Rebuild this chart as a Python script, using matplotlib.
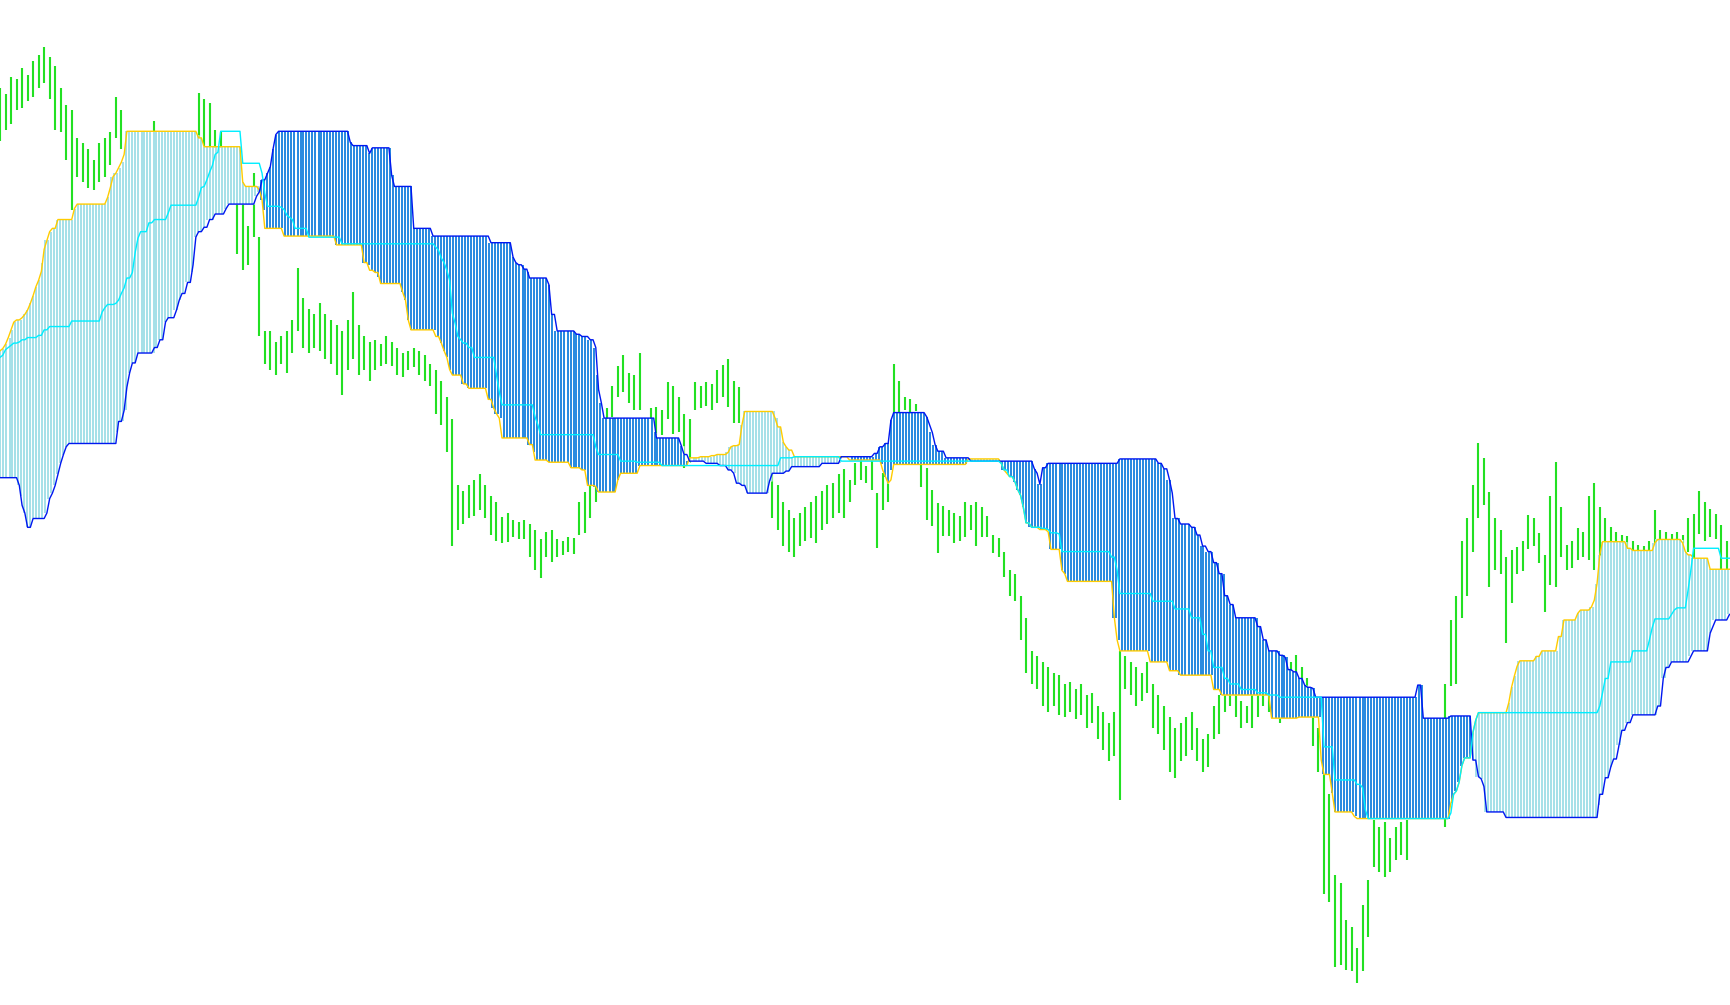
import numpy as np
import matplotlib
matplotlib.use("Agg")
import matplotlib.pyplot as plt

# time runs 0..1568 chart units, one cloud bar every 2.5 units, one price bar every 5
# price levels are on an inverted scale (0 at the top)

span_a_t = [0, 2, 5, 7, 10, 12, 15, 20, 22, 24, 26, 29, 32, 34, 36, 38, 40, 41, 44, 47,
            52, 67, 70, 96, 99, 101, 103, 107, 110, 112, 113, 114, 178, 180, 183, 218, 219, 220, 221, 235,
            237, 238, 240, 257, 303, 329, 334, 335, 340, 343, 344, 364, 367, 369, 371, 395, 398, 402, 404, 407,
            410, 419, 424, 442, 446, 449, 452, 455, 479, 483, 485, 496, 517, 526, 531, 538, 541, 560, 562, 578,
            625, 633, 645, 650, 658, 661, 663, 669, 671, 672, 673, 702, 705, 708, 710, 712, 715, 718, 770, 798,
            800, 802, 804, 807, 808, 810, 877, 906, 908, 912, 915, 918, 921, 924, 926, 929, 933, 942, 950, 952,
            961, 962, 964, 967, 1009, 1012, 1015, 1042, 1060, 1068, 1100, 1106, 1152, 1177, 1197, 1199, 1207, 1209, 1227, 1230,
            1314, 1315, 1317, 1319, 1321, 1323, 1324, 1326, 1334, 1336, 1339, 1367, 1369, 1371, 1374, 1376, 1392, 1396, 1412, 1416,
            1428, 1432, 1441, 1445, 1447, 1449, 1451, 1475, 1478, 1498, 1501, 1525, 1527, 1529, 1534, 1548, 1550]
span_a_v = [318, 316, 312, 306, 299, 292, 290, 288, 285, 281, 275, 268, 260, 254, 246, 238, 226, 218, 210, 207,
            199, 189, 185, 179, 170, 160, 157, 152, 147, 140, 127, 119, 122, 125, 133, 143, 157, 165, 169, 172,
            181, 190, 207, 214, 222, 238, 240, 245, 247, 251, 257, 265, 272, 290, 299, 305, 311, 318, 324, 335,
            340, 348, 352, 362, 370, 375, 379, 397, 403, 410, 417, 419, 424, 426, 440, 441, 446, 435, 429, 422,
            415, 414, 413, 412, 410, 405, 404, 403, 396, 385, 373, 379, 387, 397, 401, 405, 408, 414, 417, 421,
            426, 432, 438, 435, 426, 421, 416, 420, 426, 429, 432, 437, 444, 449, 460, 474, 478, 480, 482, 498,
            501, 517, 520, 527, 560, 580, 590, 600, 608, 612, 625, 630, 651, 650, 689, 702, 719, 736, 740, 742,
            737, 728, 720, 717, 709, 701, 694, 687, 664, 653, 646, 637, 623, 613, 604, 599, 595, 590, 577, 562,
            556, 553, 550, 544, 529, 503, 491, 497, 499, 492, 489, 492, 500, 503, 506, 512, 516]

span_b_t = [0, 16, 18, 20, 22, 24, 30, 41, 43, 46, 49, 52, 54, 56, 58, 61, 106, 107, 112, 115,
            116, 119, 125, 140, 144, 148, 152, 158, 162, 165, 169, 173, 175, 176, 177, 179, 183, 188, 195, 203,
            206, 231, 234, 237, 241, 244, 247, 249, 251, 317, 320, 333, 337, 354, 357, 373, 375, 392, 443, 463,
            466, 470, 475, 478, 480, 497, 500, 503, 522, 527, 533, 538, 541, 542, 544, 546, 593, 595, 616, 620,
            623, 640, 652, 660, 664, 667, 672, 677, 697, 700, 712, 716, 745, 762, 792, 797, 802, 807, 809, 838,
            841, 843, 846, 850, 856, 880, 936, 939, 941, 944, 948, 1013, 1050, 1055, 1058, 1061, 1063, 1070, 1078, 1085,
            1088, 1093, 1100, 1105, 1110, 1114, 1118, 1140, 1144, 1150, 1160, 1165, 1167, 1172, 1176, 1181, 1185, 1189, 1192, 1285,
            1290, 1313, 1335, 1338, 1342, 1344, 1346, 1363, 1448, 1450, 1453, 1458, 1462, 1466, 1470, 1474, 1478, 1502, 1506, 1510,
            1513, 1531, 1533, 1548, 1551, 1553, 1566]
span_b_v = [433, 440, 450, 458, 465, 478, 470, 465, 452, 447, 440, 430, 420, 412, 405, 402, 392, 382, 372, 351,
            338, 329, 320, 315, 308, 292, 288, 281, 272, 266, 256, 247, 240, 227, 215, 210, 206, 199, 194, 189,
            185, 178, 174, 163, 157, 151, 135, 122, 119, 129, 132, 139, 134, 159, 169, 190, 207, 214, 220, 233,
            238, 240, 244, 247, 252, 258, 285, 300, 303, 305, 308, 315, 340, 353, 365, 379, 392, 397, 404, 412,
            418, 420, 422, 426, 429, 438, 440, 447, 436, 429, 427, 423, 420, 414, 411, 405, 402, 381, 374, 378,
            385, 392, 403, 409, 415, 418, 425, 429, 439, 424, 420, 416, 420, 425, 435, 447, 470, 475, 478, 485,
            495, 500, 510, 520, 540, 548, 560, 568, 580, 590, 594, 596, 607, 609, 615, 621, 623, 624, 632, 621,
            651, 649, 689, 704, 706, 713, 736, 741, 730, 720, 705, 695, 688, 675, 662, 655, 648, 640, 615, 605,
            600, 595, 590, 574, 568, 562, 557]

kijun_t = [0, 2, 3, 6, 9, 12, 16, 20, 23, 34, 38, 43, 63, 65, 91, 92, 95, 97, 104, 107,
           110, 111, 113, 115, 120, 121, 122, 124, 127, 133, 134, 138, 151, 153, 179, 181, 184, 186, 188, 190,
           192, 193, 195, 197, 198, 199, 218, 220, 236, 238, 240, 241, 254, 256, 258, 261, 263, 266, 267, 279,
           309, 395, 397, 400, 402, 404, 406, 408, 410, 411, 413, 416, 419, 423, 428, 449, 451, 453, 483, 485,
           487, 488, 489, 538, 540, 541, 561, 577, 598, 706, 719, 762, 906, 908, 913, 915, 918, 922, 924, 927,
           929, 934, 943, 949, 952, 958, 961, 962, 1004, 1006, 1011, 1012, 1013, 1015, 1043, 1063, 1080, 1088, 1095, 1100,
           1108, 1115, 1125, 1140, 1150, 1160, 1198, 1210, 1228, 1233, 1237, 1239, 1314, 1316, 1317, 1320, 1322, 1323, 1325, 1326,
           1335, 1337, 1340, 1449, 1451, 1454, 1459, 1478, 1495, 1497, 1499, 1513, 1517, 1519, 1529, 1530, 1531, 1533, 1534, 1558,
           1560]
kijun_v = [324, 322, 317, 315, 313, 311, 310, 308, 306, 304, 299, 296, 295, 291, 287, 283, 279, 276, 275, 272,
           266, 261, 256, 252, 247, 240, 229, 216, 210, 208, 202, 199, 193, 186, 179, 170, 169, 163, 157, 156,
           150, 147, 140, 138, 127, 119, 138, 148, 157, 163, 175, 187, 188, 190, 195, 197, 199, 204, 207, 215,
           221, 224, 227, 234, 238, 245, 254, 269, 284, 293, 305, 308, 311, 315, 324, 340, 355, 367, 373, 378,
           385, 393, 394, 399, 405, 412, 418, 419, 422, 415, 414, 418, 420, 426, 429, 432, 437, 444, 449, 460,
           474, 478, 479, 480, 483, 484, 489, 500, 500, 505, 508, 517, 526, 538, 545, 552, 560, 575, 590, 605,
           615, 620, 625, 628, 630, 632, 677, 707, 711, 714, 734, 742, 737, 728, 720, 717, 709, 701, 694, 687,
           664, 653, 646, 640, 628, 615, 600, 590, 580, 569, 561, 557, 553, 551, 544, 535, 517, 506, 497, 501,
           506]

# price bars, high and low, one every 5 time units
price_high = [80, 85, 70, 72, 62, 68, 55, 50, 43, 52,
              60, 80, 95, 100, 125, 130, 135, 145, 130, 125,
              120, 88, 100, 120, 122, 125, 122, 121, 110, 120,
              122, 125, 120, 122, 122, 121, 84, 90, 93, 118,
              120, 136, 140, 160, 184, 205, 157, 215, 300, 300,
              310, 305, 300, 290, 243, 270, 280, 285, 275, 285,
              290, 295, 300, 290, 265, 295, 305, 310, 308, 312,
              305, 310, 315, 320, 318, 315, 318, 322, 330, 335,
              345, 360, 380, 440, 445, 440, 435, 430, 440, 450,
              455, 469, 465, 471, 473, 471, 475, 480, 489, 482,
              480, 489, 490, 487, 488, 455, 446, 440, 420, 380,
              370, 350, 332, 322, 338, 340, 320, 380, 370, 369,
              372, 346, 350, 360, 375, 380, 346, 350, 346, 348,
              335, 331, 325, 345, 351, 376, 385, 395, 400, 415,
              430, 440, 455, 462, 470, 465, 460, 455, 450, 445,
              440, 438, 430, 425, 435, 420, 417, 422, 417, 447,
              429, 430, 330, 345, 360, 362, 366, 420, 424, 444,
              456, 459, 462, 465, 468, 455, 458, 455, 460, 468,
              485, 488, 500, 517, 520, 540, 560, 590, 595, 600,
              605, 610, 612, 620, 618, 625, 620, 630, 628, 640,
              645, 655, 645, 590, 595, 600, 605, 610, 600, 620,
              630, 640, 650, 660, 655, 650, 645, 660, 670, 665,
              640, 630, 615, 620, 625, 635, 640, 630, 620, 600,
              610, 615, 620, 610, 600, 594, 605, 615, 650, 660,
              700, 720, 793, 800, 834, 840, 859, 820, 798, 743,
              750, 745, 760, 750, 745, 743, 700, 690, 680, 690,
              680, 670, 620, 562, 540, 490, 470, 440, 402, 415,
              446, 470, 480, 505, 499, 496, 490, 467, 470, 483,
              503, 450, 419, 460, 494, 490, 479, 482, 450, 438,
              460, 470, 478, 482, 485, 486, 490, 494, 495, 490,
              462, 480, 482, 484, 482, 485, 470, 466, 445, 455,
              461, 466, 476, 490]
price_low = [128, 118, 112, 100, 98, 92, 88, 80, 75, 90,
             118, 120, 145, 190, 160, 165, 170, 172, 165, 160,
             150, 125, 135, 140, 150, 155, 145, 140, 135, 145,
             150, 152, 148, 145, 150, 135, 125, 132, 133, 136,
             135, 160, 170, 230, 245, 240, 215, 305, 330, 335,
             340, 330, 338, 320, 300, 315, 320, 315, 318, 325,
             330, 340, 358, 335, 325, 340, 335, 345, 335, 332,
             330, 332, 340, 342, 335, 333, 340, 345, 350, 375,
             385, 410, 495, 480, 475, 470, 468, 462, 470, 485,
             490, 492, 491, 487, 489, 489, 505, 517, 524, 505,
             509, 505, 503, 500, 502, 485, 483, 470, 455, 420,
             400, 378, 360, 355, 365, 372, 372, 395, 395, 394,
             394, 380, 393, 392, 424, 420, 372, 370, 368, 372,
             365, 360, 369, 383, 383, 400, 420, 430, 440, 445,
             470, 480, 495, 500, 505, 495, 490, 488, 492, 480,
             475, 470, 465, 470, 455, 440, 435, 438, 444, 497,
             462, 455, 375, 375, 372, 378, 373, 441, 471, 477,
             501, 486, 486, 492, 490, 487, 480, 495, 487, 487,
             501, 505, 523, 540, 545, 580, 610, 620, 625, 640,
             645, 640, 648, 650, 645, 652, 648, 660, 655, 670,
             680, 690, 685, 725, 625, 630, 640, 635, 628, 660,
             665, 680, 700, 705, 690, 685, 680, 690, 700, 695,
             670, 665, 645, 640, 650, 660, 655, 660, 650, 640,
             645, 650, 655, 650, 640, 611, 621, 640, 676, 700,
             810, 818, 877, 875, 879, 880, 891, 880, 849, 786,
             790, 795, 790, 780, 775, 780, 738, 735, 725, 730,
             720, 715, 750, 622, 620, 560, 540, 500, 470, 458,
             532, 517, 520, 583, 547, 520, 518, 498, 495, 510,
             555, 530, 532, 505, 517, 515, 508, 505, 508, 517,
             510, 505, 492, 494, 495, 498, 500, 502, 505, 500,
             498, 492, 490, 490, 490, 492, 500, 506, 484, 490,
             487, 489, 517, 517]


def step_values(starts, levels, x):
    idx = np.searchsorted(starts, x, side="right") - 1
    return np.asarray(levels, dtype=float)[idx]


W, H = 1730, 1005
t_end = 1568
bar_t = np.arange(0, t_end, 2.5)
a = step_values(span_a_t, span_a_v, bar_t)
b = step_values(span_b_t, span_b_v, bar_t)
k = step_values(kijun_t, kijun_v, bar_t)
price_t = np.arange(len(price_high)) * 5.0

px = 72 / 100  # points per pixel at dpi 100


def column_t(period):
    # time value at the centre of every `period`-th pixel column
    return (np.arange(0, W, period) + 0.5) * t_end / W


fig = plt.figure(figsize=(W / 100, H / 100), dpi=100)
ax = fig.add_axes([0, 0, 1, 1])
ax.set_xlim(0, t_end)
ax.set_ylim(911, 0)
ax.axis("off")

ax.vlines(price_t, price_high, price_low, colors="#22e022", lw=2.1 * px, zorder=1)

# cloud: white base hides the bars, then the striped histogram on top
t1 = column_t(1)
ax.fill_between(t1, step_values(span_a_t, span_a_v, t1), step_values(span_b_t, span_b_v, t1),
                step="mid", color="white", lw=0, zorder=2)

t3 = column_t(3)
a3, b3 = step_values(span_a_t, span_a_v, t3), step_values(span_b_t, span_b_v, t3)
up = a3 < b3
dn = a3 > b3
ax.vlines(t3[up], a3[up], b3[up], colors="#a6e0e8", lw=2 * px, zorder=3, antialiased=False)
ax.vlines(t3[dn], b3[dn], a3[dn], colors="#2a8be0", lw=2 * px, zorder=3, antialiased=False)

ax.plot(bar_t, a, color="#ffcc00", lw=1.4 * px, zorder=4)
ax.plot(bar_t, b, color="#0018f0", lw=1.4 * px, zorder=4)
ax.plot(bar_t, k, color="#00eeff", lw=1.4 * px, zorder=5)

fig.savefig("out.png", dpi=100, facecolor="white")
